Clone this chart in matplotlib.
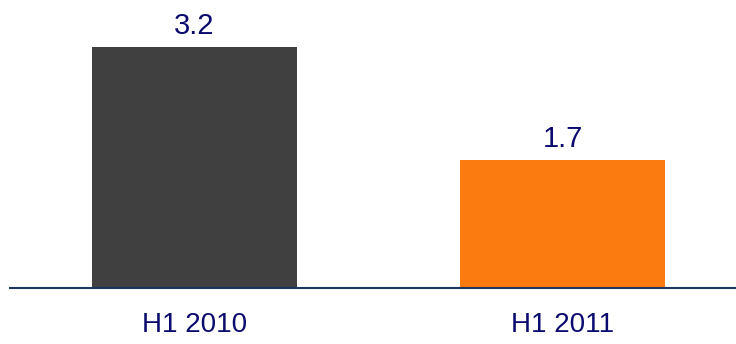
import matplotlib
matplotlib.use("Agg")
import matplotlib.pyplot as plt

categories = ["H1 2010", "H1 2011"]
values = [3.2, 1.7]
labels = ["3.2", "1.7"]
colors = ["#404040", "#FC7B10"]

plt.rcParams['font.family'] = ["Liberation Sans", "DejaVu Sans"]
text_color = "#0B0B6E"

fig = plt.figure(figsize=(7.36, 3.44), dpi=100)
ax = fig.add_axes([10/736, 56/344, 726/736, 288/344])
x = list(range(len(categories)))
ax.bar(x, values, width=0.557, color=colors)
ax.set_xlim(-0.501, 1.4715)
ax.set_ylim(0, 3.825)
for xi, v, lab in zip(x, values, labels):
    ax.annotate(lab, (xi, v), xytext=(0, 9.4), textcoords="offset points",
                ha="center", va="baseline", fontsize=21, color=text_color)
for s in ["top", "right", "left"]:
    ax.spines[s].set_visible(False)
ax.spines["bottom"].set_color("#1F3560")
ax.spines["bottom"].set_linewidth(1.5)
ax.set_yticks([])
ax.set_xticks(x)
ax.set_xticklabels(categories, fontsize=20, color=text_color)
ax.tick_params(axis="x", length=0, pad=17)
fig.savefig("out.png", dpi=100)
